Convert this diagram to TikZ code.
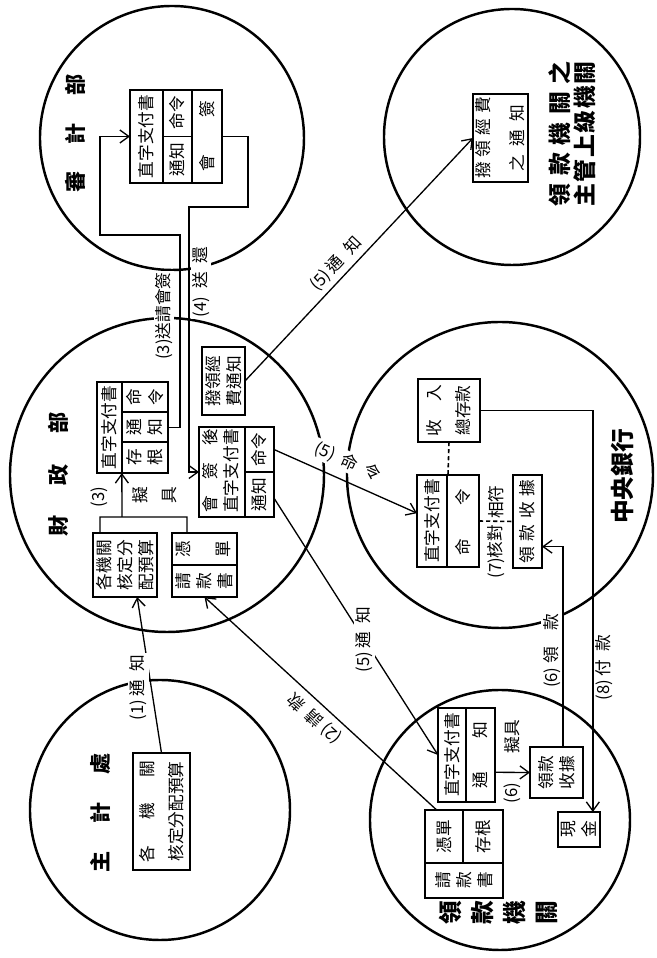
\documentclass[tikz,border=0pt]{standalone}
\usepackage{fontspec}
\setmainfont{Noto Sans CJK TC}
\usetikzlibrary{arrows.meta,positioning,calc}
\tikzset{
  org/.style={draw, circle, line width=1.4pt, inner sep=0pt, outer sep=0pt, minimum size=#1},
  bx/.style={draw, line width=0.9pt, inner sep=0pt, outer sep=0pt, align=center, font=\fontsize{9.5}{12}\selectfont},
  tx/.style={inner sep=0.5pt, align=center, font=\fontsize{9.5}{12}\selectfont},
  ttl/.style={inner sep=1pt, align=center, font=\fontsize{12}{15}\selectfont\bfseries},
  lbl/.style={fill=white, inner sep=1pt, font=\fontsize{9.5}{12}\selectfont},
  arr/.style={-{Straight Barb[length=1.8mm,width=2.6mm]}, line width=0.75pt},
  ln/.style={line width=0.75pt},
  dsh/.style={line width=0.9pt, dash pattern=on 2.4pt off 1.6pt},
  cut/.style={line width=0.9pt}
}

\begin{document}
\begin{tikzpicture}[x=0.2mm, y=0.2mm, rotate=90, transform shape]
\useasboundingbox (0,0) rectangle (958,656);

% the six offices
\node[org=52.8mm] (C1) at (820,484) {};
\node[org=51.2mm] (C2) at (821,144) {};
\node[org=62.8mm] (C3) at (483,489) {};
\node[org=61.2mm] (C4) at (483,156) {};
\node[org=52mm] (C5) at (148,496) {};
\node[org=52mm] (C6) at (138,156) {};

\node[ttl] (t1) at (824.5,581) {審\hspace{5.4mm}計\hspace{5.4mm}部};
\node[ttl] (t3) at (483.5,598) {財\hspace{6mm}政\hspace{6mm}部};
\node[ttl] (t5) at (145,556) {主\hspace{5.6mm}計\hspace{5.6mm}處};
\node[ttl, font=\fontsize{13.5}{18.2}\selectfont\bfseries] (t6) at (45,158) {領\\款\\機\\關};
\node[ttl, font=\fontsize{13.5}{16}\selectfont\bfseries] (t4) at (481.5,34) {中央銀行};
\node[ttl, font=\fontsize{13}{14.2}\selectfont\bfseries] (t2) at (824,84)
  {\makebox[29mm][s]{領\hfill 款\hfill 機\hfill 關\hfill 之}\\\makebox[29mm][s]{主\hfill 管\hfill 上\hfill 級\hfill 機\hfill 關}};

% 主計處
\node[bx, minimum width=23.4mm, minimum height=11.4mm] (Z) at (146.5,494.5)
  {\makebox[20.4mm][s]{各\hfill 機\hfill 關}\\[1.6mm]核定分配預算};

% 財政部
\node[bx, minimum width=12.8mm, minimum height=12.8mm] (B1) at (393,531) {各機關\\核定分\\配預算};
\node[bx, minimum width=12.8mm, minimum height=13mm] (B2) at (393,451.5) {};
\draw[cut] (393,419) -- (393,484);
\node[tx] (b2a) at (377,451.5) {請\\款\\書};
\node[tx] (b2b) at (409,453) {憑\\[3.8mm]單};
\node[bx, minimum width=18.2mm, minimum height=14.2mm] (B3) at (530.5,523.5) {};
\draw[cut] (485,534) -- (576,534) (516,488) -- (516,534) (546,488) -- (546,534);
\node[tx] (b3a) at (530.5,546.5) {直字支付書};
\node[tx] (b3b) at (500.5,511) {存\\根};
\node[tx] (b3c) at (531,511) {通\\知};
\node[tx] (b3d) at (561,511) {命\\令};
\node[bx, minimum width=13.6mm, minimum height=8.6mm] (B4) at (577,432.5) {撥領經\\費通知};
\node[bx, minimum width=18mm, minimum height=15mm] (B5) at (486,419.5) {};
\draw[cut] (441,411) -- (531,411) (486,382) -- (486,411);
\node[tx] (b5a) at (487,435) {\makebox[16.8mm][s]{會\hfill 簽\hfill 後}\\直字支付書};
\node[tx] (b5b) at (463.5,396.5) {通知};
\node[tx] (b5c) at (508.5,396.5) {命令};

% 審計部
\node[bx, minimum width=18.6mm, minimum height=18.4mm] (S) at (821.5,480) {};
\draw[cut] (775,493) -- (868,493) (775,464) -- (868,464) (821.5,464) -- (821.5,493);
\node[tx] (s1) at (821.5,509.5) {直字支付書};
\node[tx] (s2) at (798,478.5) {通知};
\node[tx] (s3) at (845,478.5) {命令};
\node[tx] (s4) at (821.5,449) {會\hspace{7.5mm}簽};

% 主管上級機關
\node[bx, minimum width=17.6mm, minimum height=11mm] (T) at (820,155.5)
  {\makebox[16.4mm][s]{撥\hfill 領\hfill 經\hfill 費}\\[2.6mm]\makebox[13.4mm][s]{之\hfill 通\hfill 知}};

% 中央銀行
\node[bx, minimum width=12.6mm, minimum height=12.4mm] (R1) at (547.5,207) {收\hspace{3.6mm}入\\[1.6mm]總存款};
\node[bx, minimum width=18.4mm, minimum height=12.4mm] (R2) at (437,208) {};
\draw[cut] (391,209) -- (483,209);
\node[tx] (r2a) at (437,224) {直字支付書};
\node[tx] (r2b) at (436,193) {命\hspace{6.6mm}令};
\node[bx, minimum width=18.6mm, minimum height=5.8mm] (R3) at (436.5,128.5) {領\hspace{1mm}款\hspace{1.4mm}收\hspace{1mm}據};

% 領款機關
\node[bx, minimum width=18.8mm, minimum height=11.4mm] (L1) at (203,189.5) {};
\draw[cut] (156,190) -- (250,190);
\node[tx] (l1a) at (203,204) {直字支付書};
\node[tx] (l1b) at (203,175.5) {通\hspace{6.6mm}知};
\node[bx, minimum width=17.6mm, minimum height=15.6mm] (L2) at (104,192) {};
\draw[cut] (95,153) -- (95,231) (95,193) -- (148,193);
\node[tx] (l2a) at (77.5,192) {請\\款\\書};
\node[tx] (l2b) at (121.5,212) {憑單};
\node[tx] (l2c) at (121.5,173) {存根};
\node[bx, minimum width=10.2mm, minimum height=10.6mm] (L3) at (185.5,99.5) {領款\\收據};
\node[bx, minimum width=7mm, minimum height=8.4mm] (Cash) at (128.5,77) {現\\金};

% flows
\draw[arr] (Z.east) -- node[lbl, pos=0.42, above=1pt] (n1) {(1) 通\enspace 知}
  ($(B1.north west)!0.69!(B1.south west)$);
\draw[arr] ($(L2.north east)!0.15!(L2.south east)$) --
  node[lbl, pos=0.47, rotate=47.5, above=3pt] (n2) {(2) 請\enspace 款} (B2.west);
\draw[ln] ($(B1.north east)!0.11!(B1.south east)$) -- (441,556) -- (441,469) -- ($(B2.north east)!0.23!(B2.south east)$);
\coordinate (j3) at (441,534);
\draw[arr] (j3) -- node[tx, pos=0.45, above=7pt] (n3a) {(3)} node[tx, pos=0.5, below=5pt] (n3b) {擬\\[1.6mm]具}
  ($(B3.north west)!0.35!(B3.south west)$);
\draw[arr] (B3.south) -- (530.5,476) -- (723,476) -- (723,556) -- (821.5,556) -- (S.north);
\node[lbl] (n3) at (642,492) {(3)送請會簽};
\draw[arr] (S.south) -- (821.5,408) -- (751,408) -- (751,467) -- (486,467) -- (B5.north);
\node[lbl] (n4) at (676,455) {(4)\enspace 送\enspace 還};
\draw[arr] (B4.south) -- node[lbl, pos=0.45, rotate=-43.2, above=2pt] (n5a) {(5) 通\enspace 知} (T.north);
\draw[arr] ($(B5.south)!0.5!(B5.south east)$) -- ($(R2.north)!0.17!(R2.north east)$);
\node[lbl, rotate=-114] (n5b) at (496,308) {(5)\enspace 命\enspace 令};
\draw[arr] ($(B5.south west)!0.42!(B5.south)$) -- node[lbl, pos=0.55] (n5c) {(5) 通\enspace 知} (L1.north);
\draw[arr] ($(L1.south west)!0.316!(L1.south east)$) -- (L3.north)
  node[tx, midway, left=5pt] (n6a) {(6)} node[tx, midway, right=10pt] (n6b) {擬具};
\draw[arr] ($(L3.north east)!0.62!(L3.south east)$) -|
  node[lbl, pos=0.24, above] (n6c) {(6) 領\quad 款} ($(R3.south west)!0.23!(R3.south east)$);
\draw[dsh] (R1.west) -- (R2.east);
\draw[dsh] (R2.south) -- (R3.north)
  node[tx, midway, left=1pt] (n7a) {(7)核對} node[tx, midway, right=0.5pt] (n7b) {相符};
\draw[arr] (R1.south) |- node[lbl, pos=0.82, below] (n8) {(8) 付\enspace 款}
  ($(Cash.south east)!0.17!(Cash.north east)$);
\end{tikzpicture}
\end{document}
